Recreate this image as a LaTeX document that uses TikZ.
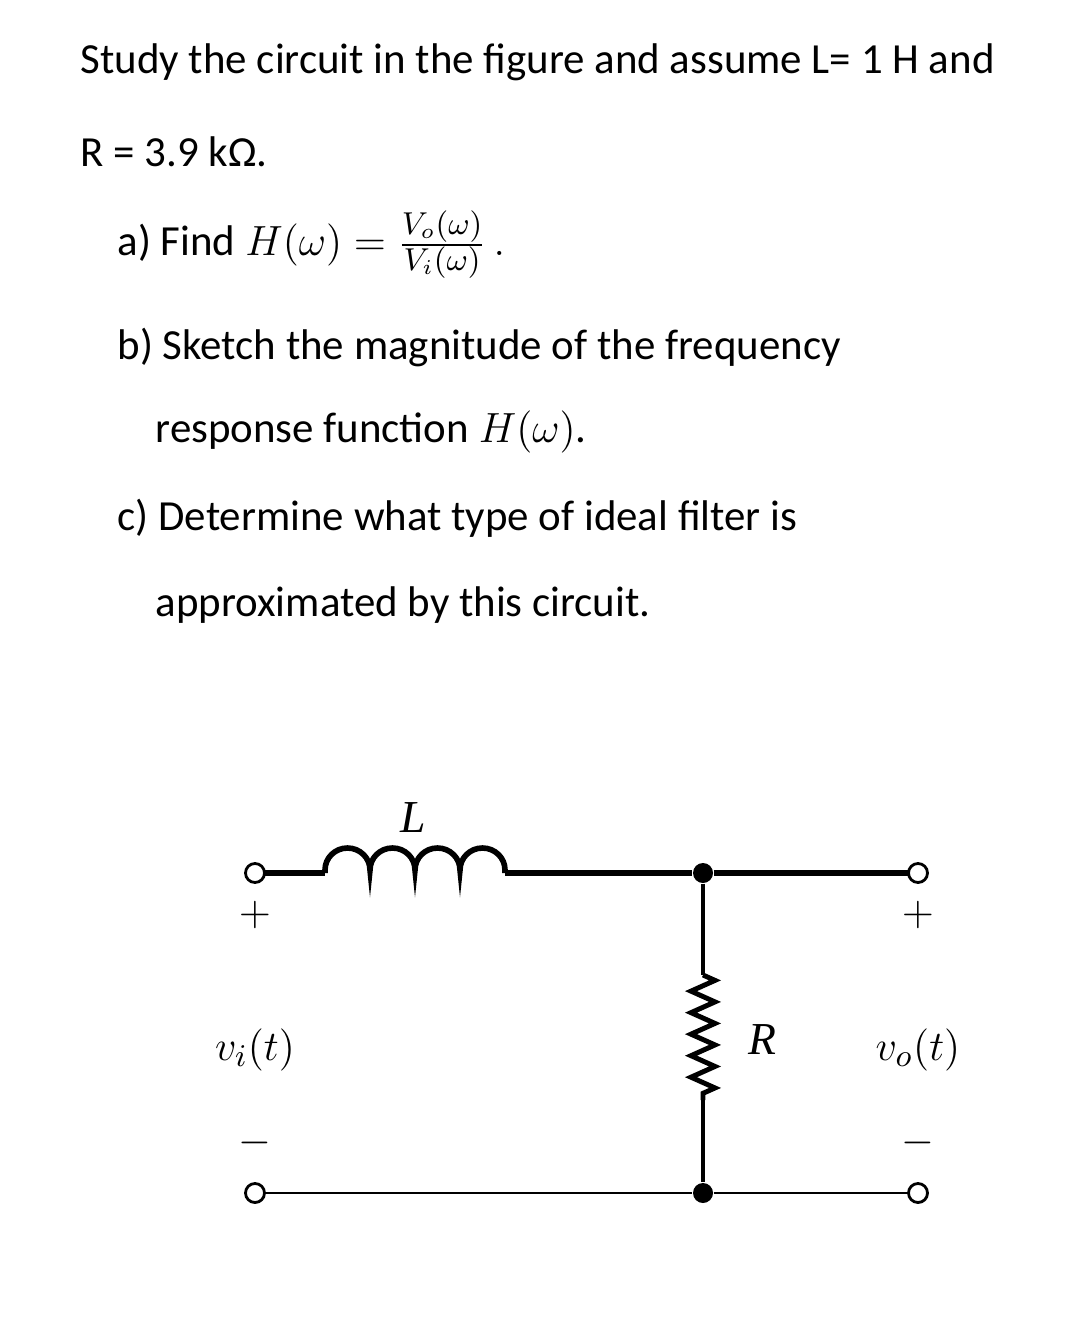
\documentclass[tikz,border=0pt]{standalone}
\usepackage{fontspec}
\setmainfont{Carlito}
\newfontfamily\timesfont{Liberation Serif}
\usetikzlibrary{positioning,decorations.pathmorphing}

\begin{document}
\begin{tikzpicture}
    [%%%%%%%%%%%%%%%%%%%%%%%%%%%%%%
    x=0.01cm,y=-0.01cm,
    line/.style={anchor=west,inner sep=0pt,font=\fontsize{12.2}{14}\selectfont},
    term/.style={circle,draw=black,thick,fill=white,minimum size=0.19cm,inner sep=0pt},
    junction/.style={circle,fill=black,minimum size=0.2cm,inner sep=0pt},
    sign/.style={font=\fontsize{13}{15}\selectfont},
    ]%%%%%%%%%%%%%%%%%%%%%%%%%%%%%%

    \useasboundingbox (0,0) rectangle (1080,1327);

    % question text
    \node[line] at (80,62) (q1) {Study the circuit in the figure and assume L= 1 H and};
    \node[line] at (80,152) (q2) {R = 3.9 kΩ.};
    \node[line] at (117,245) (qa) {a) Find $H(\omega) = \frac{V_o(\omega)}{V_i(\omega)}\,.$};
    \node[line] at (117,347) (qb) {b) Sketch the magnitude of the frequency};
    \node[line] at (155,432) (qb2) {response function $H(\omega)$.};
    \node[line] at (117,518) (qc) {c) Determine what type of ideal filter is};
    \node[line] at (155,605) (qc2) {approximated by this circuit.};

    % circuit nodes
    \coordinate (lstart) at (325,873);
    \coordinate (lend) at (505,873);
    \coordinate (rtop) at (703,975);
    \coordinate (rbot) at (703,1100);
    \node[junction] at (703,873) (jtop) {};
    \node[junction] at (703,1193) (jbot) {};

    % wires
    \draw[line width=1.6pt] (lend) -- (jtop) -- (909,873);
    \draw[line width=1.6pt] (264,873) -- (lstart);
    \draw[line width=1.6pt] (lstart) -- ++(0,-3)
        \foreach \k in {0,1,2,3} { arc[start angle=180,end angle=0,x radius=22.5,y radius=-22] -- ++(0,0) }
        -- (lend);
    \draw[thick] (264,1193) -- (jbot) -- (909,1193);
    \draw[line width=1.4pt] (jtop) -- (rtop);
    \draw[line width=1.4pt,decoration={zigzag,segment length=0.215cm,amplitude=0.12cm},decorate] (rtop) -- (rbot);
    \draw[line width=1.4pt] (rbot) -- (jbot);

    % terminals
    \node[term] at (255,873) (inp) {};
    \node[term] at (255,1193) (inn) {};
    \node[term] at (918,873) (outp) {};
    \node[term] at (918,1193) (outn) {};

    % labels
    \node[sign] at (413,818) (llabel) {\timesfont\itshape L};
    \node[sign] at (762,1040) (rlabel) {\timesfont\itshape R};
    \node[sign] at (255,915) (plusi) {$+$};
    \node[sign] at (918,915) (pluso) {$+$};
    \node[sign] at (255,1143) (minusi) {$-$};
    \node[sign] at (918,1143) (minuso) {$-$};
    \node[sign] at (255,1050) (vin) {$v_i(t)$};
    \node[sign] at (918,1050) (vout) {$v_o(t)$};
\end{tikzpicture}
\end{document}
